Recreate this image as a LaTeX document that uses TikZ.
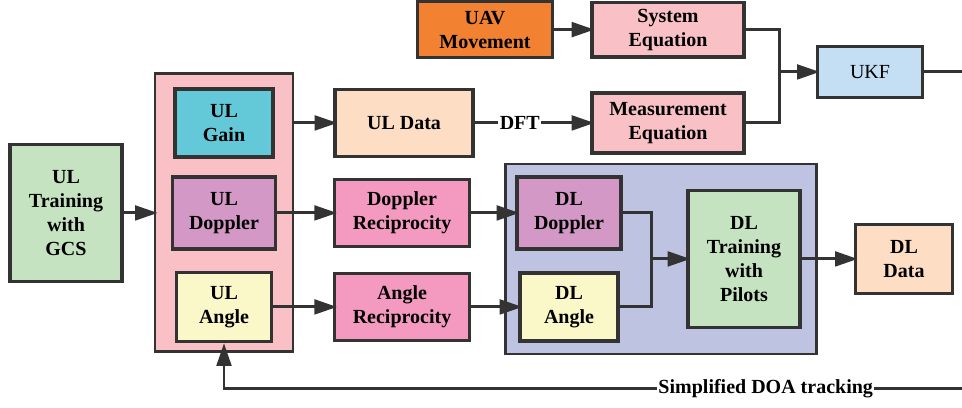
\documentclass[tikz,border=0pt]{standalone}
\usepackage{fontspec}
\setmainfont{Liberation Serif}
\usetikzlibrary{positioning,fit,backgrounds,arrows.meta,calc}

\definecolor{lnc}{HTML}{333333}
\definecolor{cgreen}{HTML}{C5E3C0}
\definecolor{cpink}{HTML}{F9C1C5}
\definecolor{ccyan}{HTML}{63C9D8}
\definecolor{cpurple}{HTML}{D398C5}
\definecolor{cyellow}{HTML}{FAF7C9}
\definecolor{cpeach}{HTML}{FDDDC4}
\definecolor{corange}{HTML}{F28131}
\definecolor{cukf}{HTML}{C4DFF4}
\definecolor{crecip}{HTML}{F49AC1}
\definecolor{cblue}{HTML}{BFC3E2}

\begin{document}
\begin{tikzpicture}[on grid,
    blk/.style={draw=lnc,line width=2.4pt,align=center,inner sep=0pt,
      font=\fontsize{15}{18}\selectfont\bfseries},
    grp/.style={draw=lnc,line width=2pt,inner sep=0pt},
    wire/.style={draw=lnc,line width=2.2pt},
    flow/.style={wire,-{Triangle[length=17pt,width=11pt]},shorten >=-3pt},
    lbl/.style={fill=white,inner sep=1pt,font=\fontsize{15}{18}\selectfont\bfseries}]
   \node[blk,fill=cgreen,minimum width=84pt,minimum height=103pt] (train) {UL\\Training\\with\\GCS};
   \node[blk,fill=cpurple,minimum width=77pt,minimum height=54pt,right=118.5pt of train] (uldop) {UL\\Doppler};
   \node[blk,fill=ccyan,minimum width=73.5pt,minimum height=51pt,above=67.5pt of uldop] (ulgain) {UL\\Gain};
   \node[blk,fill=cyellow,minimum width=71pt,minimum height=52pt,below=70.5pt of uldop] (ulang) {UL\\Angle};
   \node[blk,fill=cpeach,minimum width=103.5pt,minimum height=50pt,right=135pt of ulgain] (uldata) {UL Data};
   \node[blk,fill=cpink,minimum width=114pt,minimum height=45pt,right=198pt of uldata] (meas) {Measurement\\Equation};
   \node[blk,fill=cpink,minimum width=114pt,minimum height=41pt,above=70pt of meas] (sys) {System\\Equation};
   \node[blk,fill=corange,minimum width=101pt,minimum height=42pt,left=137.25pt of sys] (uav) {UAV\\Movement};
   \node[blk,fill=cukf,minimum width=79pt,minimum height=38pt,font=\fontsize{15}{18}\selectfont,
     above right=38.25pt and 349.5pt of uldata] (ukf) {UKF};
   \node[blk,fill=crecip,minimum width=101pt,minimum height=50pt,right=133.5pt of uldop] (dopr) {Doppler\\Reciprocity};
   \node[blk,fill=crecip,minimum width=101pt,minimum height=50pt,right=133.5pt of ulang] (angr) {Angle\\Reciprocity};
   \node[blk,fill=cpurple,minimum width=78pt,minimum height=54pt,right=125.25pt of dopr] (dldop) {DL\\Doppler};
   \node[blk,fill=cyellow,minimum width=73.5pt,minimum height=51pt,right=125.25pt of angr] (dlang) {DL\\Angle};
   \node[blk,fill=cgreen,minimum width=84pt,minimum height=103pt,below right=34.5pt and 131.25pt of dldop] (dltrain) {DL\\Training\\with\\Pilots};
   \node[blk,fill=cpeach,minimum width=73pt,minimum height=52pt,right=120pt of dltrain] (dldata) {DL\\Data};

   \begin{scope}[on background layer]
     \node[grp,fill=cpink,fit=(ulgain)(uldop)(ulang),inner xsep=12pt,inner ysep=8.4pt,yshift=2pt] (ulgrp) {};
     \node[grp,fill=cblue,fit=(dldop)(dlang)(dltrain),inner xsep=9.4pt,inner ysep=8.6pt,xshift=1.9pt] (dlgrp) {};
   \end{scope}

   \coordinate[left=27pt of ukf.west] (mrg);
   \coordinate[left=26.25pt of dltrain.west] (jn);
   \coordinate (rimsw) at ($(train)+(-49.5pt,-146.25pt)$);
   \coordinate (rimne) at ($(train)+(672pt,158.25pt)$);
   \coordinate (doaend) at ($(rimne|-rimsw)+(0,14.25pt)$);
   \useasboundingbox (rimsw) rectangle (rimne);

   \draw[flow] (train.east) -- (train.east -| ulgrp.west);
   \draw[flow] (ulgrp.east |- ulgain) -- (uldata);
   \draw[flow] (uldata) -- node[lbl,pos=0.39] {DFT} (meas);
   \draw[flow] (uav) -- (sys);
   \draw[wire] (sys.east) -| (mrg);
   \draw[wire] (meas.east) -| (mrg);
   \draw[flow] (mrg) -- (ukf);
   \draw[wire] (ukf) -- (ukf -| rimne);
   \draw[flow] (uldop) -- (dopr);
   \draw[flow] (dopr) -- (dldop);
   \draw[flow] (ulang) -- (angr);
   \draw[flow] (angr) -- (dlang);
   \draw[wire] (dldop.east) -| (jn);
   \draw[wire] (dlang.east) -| (jn);
   \draw[flow] (jn) -- (dltrain);
   \draw[flow] (dltrain) -- (dldata);
   \draw[flow,shorten >=0pt] (doaend) -| node[lbl,pos=0.133] {Simplified DOA tracking} (ulang.south);
\end{tikzpicture}
\end{document}
